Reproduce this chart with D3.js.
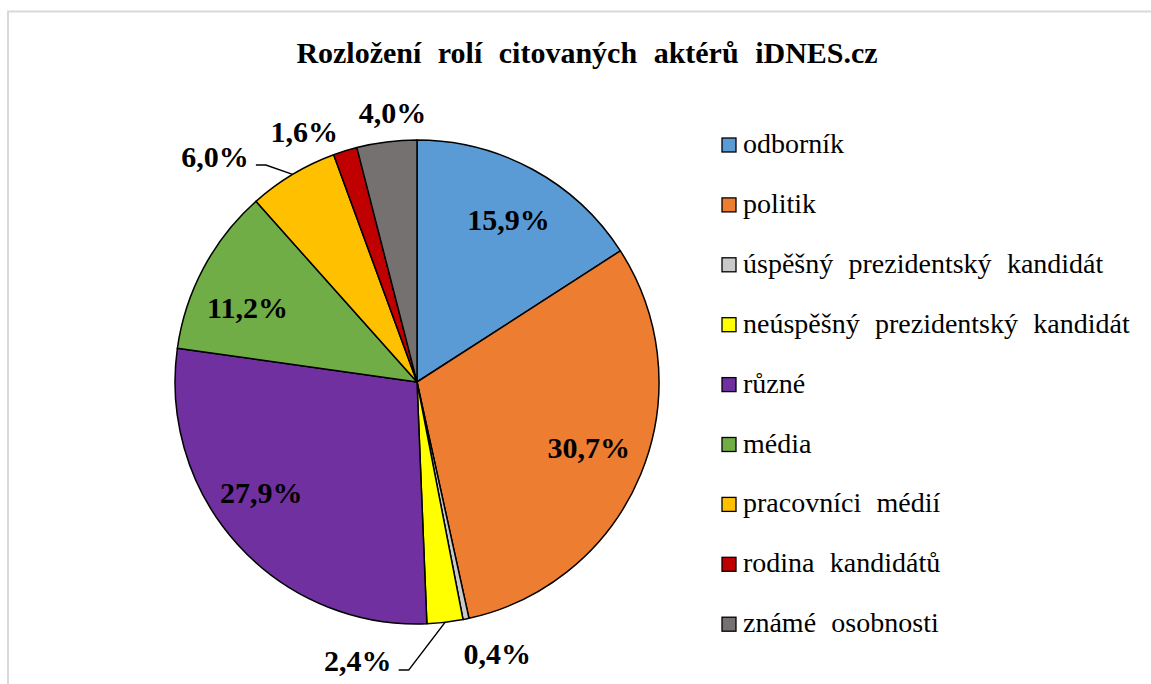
<!DOCTYPE html>
<html>
<head>
<meta charset="utf-8">
<script src="https://cdn.jsdelivr.net/npm/d3@7"></script>
<style>
  html, body { margin: 0; padding: 0; background: #fff; }
  svg text { font-family: "Liberation Serif", "Times New Roman", Times, serif; }
</style>
</head>
<body>
<svg id="fig" width="1151" height="684"></svg>
<script>
// ---- data ----
const categories = [
  "odborník", "politik", "úspěšný prezidentský kandidát", "neúspěšný prezidentský kandidát",
  "různé", "média", "pracovníci médií", "rodina kandidátů", "známé osobnosti"
];
const values = [15.9, 30.7, 0.4, 2.4, 27.9, 11.2, 6.0, 1.6, 4.0];
const labels = ["15,9%", "30,7%", "0,4%", "2,4%", "27,9%", "11,2%", "6,0%", "1,6%", "4,0%"];
const colors = ["#5b9bd5", "#ed7d31", "#c9c9c9", "#ffff00", "#7030a0", "#70ad47", "#ffc000", "#c00000", "#767171"];
const title = "Rozložení rolí citovaných aktérů iDNES.cz";

// ---- layout config (label placement relative to radius, angle nudge in degrees) ----
const labelPlace = [
  { r: 0.77, da: 0.8 },
  { r: 0.76, da: -1.5 },
  { r: 1.17, da: -4.8 },
  { r: 1.175, da: 18.7, leader: true },
  { r: 0.79, da: 6.7 },
  { r: 0.765, da: -4.4 },
  { r: 1.25, da: -11.0, leader: true },
  { r: 1.135, da: -7 },
  { r: 1.12, da: 2 }
];

const FONT = '"Liberation Serif", "Times New Roman", Times, serif';
const svg = d3.select("#fig");
const W = 1151, H = 684;
const cx = 417, cy = 382, R = 242;

// text with wider word spacing (as in the original Word/Excel rendering)
function spacedText(sel, str, extra) {
  const words = str.split(" ");
  sel.text(words[0]);
  words.slice(1).forEach(w => sel.append("tspan").attr("dx", extra).text(" " + w));
  return sel;
}

// border
svg.append("rect").attr("x", 8).attr("y", 11.5).attr("width", W).attr("height", H)
  .attr("fill", "none").attr("stroke", "#d9d9d9").attr("stroke-width", 2);

// title
spacedText(
  svg.append("text").attr("x", 587).attr("y", 63).attr("text-anchor", "middle")
    .style("font-family", FONT)
    .style("font-weight", "bold").style("font-size", "30px").attr("fill", "#000"),
  title, 9);

const data = categories.map((c, i) => ({ name: c, value: values[i], label: labels[i], color: colors[i], i }));
const pie = d3.pie().value(d => d.value).sort(null);
const arcs = pie(data);
const arc = d3.arc().innerRadius(0).outerRadius(R);

const g = svg.append("g").attr("transform", `translate(${cx},${cy})`);
g.selectAll("path.slice").data(arcs).join("path")
  .attr("class", "slice")
  .attr("d", arc)
  .attr("fill", d => d.data.color)
  .attr("stroke", "#000").attr("stroke-width", 1.5).attr("stroke-linejoin", "round");

// labels
const toXY = (ang, r) => [r * Math.sin(ang), -r * Math.cos(ang)];
arcs.forEach((a, i) => {
  const p = labelPlace[i];
  const mid = (a.startAngle + a.endAngle) / 2;
  const la = mid + p.da * Math.PI / 180;
  const [lx, ly] = toXY(la, p.r * R);
  g.append("text").attr("x", lx).attr("y", ly).attr("dy", "0.35em")
    .attr("text-anchor", "middle")
    .style("font-family", FONT)
    .style("font-weight", "bold").style("font-size", "30px").attr("fill", "#000")
    .text(a.data.label);
  if (p.leader) {
    const [ex, ey] = toXY(mid, R);
    const w = 70;
    const side = lx < ex ? 1 : -1;
    const sx = lx + side * (w / 2 + 6);
    const sy = ly + (i === 3 ? 10 : 8);
    const hx = sx + side * 10;
    g.append("path")
      .attr("d", `M${sx},${sy}L${hx},${sy}L${ex},${ey}`)
      .attr("fill", "none").attr("stroke", "#000").attr("stroke-width", 1.5);
  }
});

// legend
const lg = svg.append("g");
const legendX = 722, legendY0 = 145, legendStep = 59.9;
data.forEach((d, i) => {
  const y = legendY0 + i * legendStep;
  lg.append("rect").attr("x", legendX).attr("y", y - 7).attr("width", 14).attr("height", 14)
    .attr("fill", d.color).attr("stroke", "#000").attr("stroke-width", 1.3);
  spacedText(
    lg.append("text").attr("x", legendX + 21).attr("y", y + 8)
      .style("font-family", FONT)
      .style("font-size", "28px").attr("fill", "#000"),
    d.name, 8.3);
});
</script>
</body>
</html>
